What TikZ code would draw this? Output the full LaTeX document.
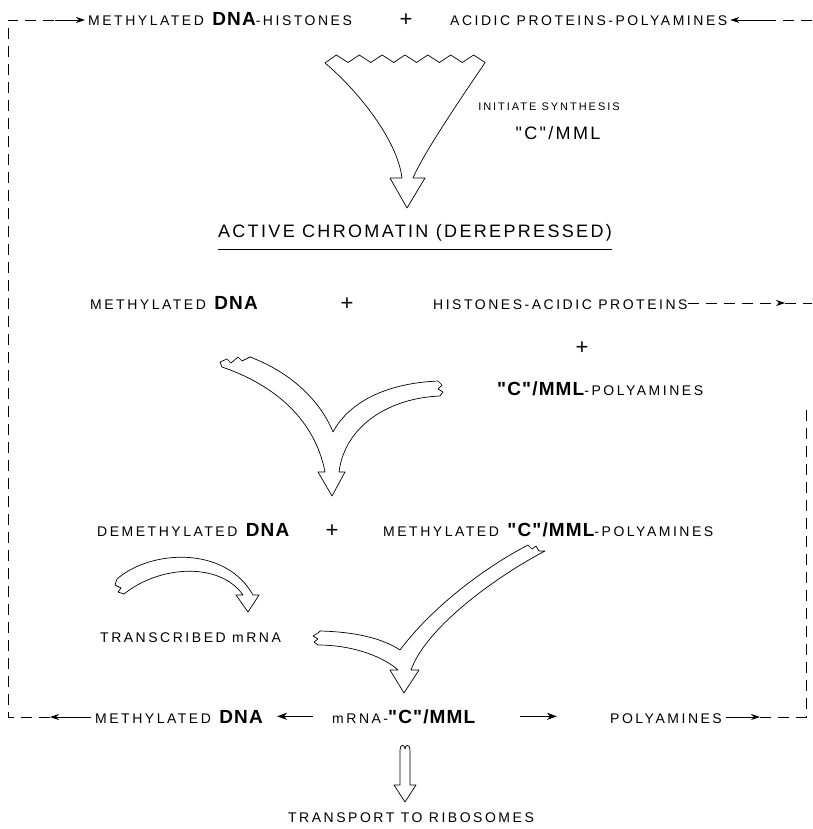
\documentclass[tikz,border=0pt]{standalone}
\usepackage{fontspec}
\setmainfont{Liberation Sans}
\newfontfamily\spaced[LetterSpace=18]{Liberation Sans}
\newfontfamily\heavy[LetterSpace=6]{Liberation Sans}
\newfontfamily\wide[LetterSpace=13]{Liberation Sans}
\newcommand{\smtxt}[1]{{\spaced\fontsize{14}{16}\selectfont #1}}
\newcommand{\bigtxt}[1]{{\heavy\bfseries\fontsize{19}{22}\selectfont #1}}
\newcommand{\plussign}{{\fontsize{22}{24}\selectfont +}}
\usetikzlibrary{arrows.meta}

\begin{document}
\begin{tikzpicture}[x=1pt,y=-1pt,
    every node/.style={inner sep=0pt},
    hollow/.style={draw,line width=0.7pt,line join=round},
    loop/.style={line width=0.6pt,dash pattern=on 11pt off 7pt},
    tip/.style={line width=0.8pt,-{Stealth[length=9pt,width=6pt,inset=3pt]}},
    heavytip/.style={line width=1.3pt,-{Stealth[length=10pt,width=7pt,inset=3pt]}}]
             \useasboundingbox (0,0) rectangle (812,829);
             \node[anchor=base west] (mdh) at (88,26) {\smtxt{METHYLATED }\hspace{2pt}\bigtxt{DNA}\smtxt{-HISTONES}};
             \node[anchor=base] (pl1) at (406,27) {\plussign};
             \node[anchor=base west] (apa) at (450,26) {\smtxt{ACIDIC PROTEINS-POLYAMINES}};
             \node[anchor=base] (init) at (549,111) {{\spaced\fontsize{11}{13}\selectfont INITIATE SYNTHESIS}};
             \node[anchor=base] (cm1) at (558,140) {{\wide\fontsize{18}{20}\selectfont "C"/MML}};
             \node[anchor=base] (act) at (415,237) {{\wide\fontsize{18}{20}\selectfont ACTIVE CHROMATIN (DEREPRESSED)}};
             \draw[line width=0.8pt] ([yshift=-12pt]act.base west) -- ([yshift=-12pt]act.base east);
             \node[anchor=base west] (mdna1) at (90,309) {\smtxt{METHYLATED }\hspace{2pt}\bigtxt{DNA}};
             \node[anchor=base] (pl2) at (347,310) {\plussign};
             \node[anchor=base west] (hap) at (433,309) {\smtxt{HISTONES-ACIDIC PROTEINS}};
             \node[anchor=base] (pl3) at (582,354) {\plussign};
             \node[anchor=base west] (cmp) at (497,395) {\bigtxt{"C"/MML}\smtxt{-POLYAMINES}};
             \node[anchor=base west] (dmd) at (97,536) {\smtxt{DEMETHYLATED }\hspace{2pt}\bigtxt{DNA}};
             \node[anchor=base] (pl4) at (332,537) {\plussign};
             \node[anchor=base west] (mcp) at (383,536) {\smtxt{METHYLATED }\hspace{2pt}\bigtxt{"C"/MML}\smtxt{-POLYAMINES}};
             \node[anchor=base west] (trm) at (100,642) {\smtxt{TRANSCRIBED mRNA}};
             \node[anchor=base west] (mdna2) at (95,723) {\smtxt{METHYLATED }\hspace{2pt}\bigtxt{DNA}};
             \node[anchor=base west] (mrna) at (332,723) {\smtxt{mRNA-}\bigtxt{"C"/MML}};
             \node[anchor=base west] (poly) at (610,723) {\smtxt{POLYAMINES}};
             \node[anchor=base] (trib) at (411,822) {\smtxt{TRANSPORT TO RIBOSOMES}};

             \coordinate (ltop) at (55,20);
             \coordinate (lbot) at (50,717);
             \coordinate (rtop) at (768,20);
             \coordinate (rmid) at (785,303);
             \coordinate (rbot) at (760,717);
             \draw[loop] (lbot) -- (8,717) -- (8,20) -- (ltop);
             \draw[tip,shorten >=3pt] (ltop) -- (ltop -| mdh.west);
             \draw[tip,shorten <=4pt] (lbot -| mdna2.west) -- (lbot);
             \draw[loop] (812,20) -- (rtop);
             \draw[tip,shorten >=3pt] (rtop) -- (rtop -| apa.east);
             \draw[loop,-{Stealth[length=9pt,width=6pt,inset=3pt]}] (rmid -| hap.east) -- (rmid);
             \draw[loop] (rmid) -- (812,303);
             \draw[tip,shorten <=4pt] (rbot -| poly.east) -- (rbot);
             \draw[loop] (rbot) -- (806,717) -- (806,403);
             \draw[heavytip,shorten <=19pt,shorten >=14pt] (mrna.west) -- (mrna.west -| mdna2.east);
             \draw[heavytip,shorten <=45pt,shorten >=53pt] (mrna.east) -- (mrna.east -| poly.west);

             \draw[hollow] (325,63) \foreach \i in {0,...,6} { -- ({336.4+22.86*\i},55) -- ({348+22.86*\i},62.5) }
                 .. controls (470,85) and (425,150) .. (413,178) -- (425,178) -- (407,208) -- (390,178) -- (402,178)
                 .. controls (397,138) and (355,88) .. cycle;
             \draw[hollow] (250,357) .. controls (290,372) and (320,400) .. (333,432)
                 .. controls (350,400) and (390,383) .. (438,381) -- (442,385) -- (438,389) -- (443,392) -- (440,396)
                 .. controls (390,398) and (345,425) .. (339,472) -- (345,472) -- (332,496) -- (318,472) -- (325,472)
                 .. controls (315,420) and (275,385) .. (222,367) -- (220,362) -- (227,359) -- (231,363) -- (238,357)
                 -- (242,361) -- cycle;
             \draw[hollow] (117,579) .. controls (150,550) and (225,545) .. (253,595) -- (259,595) -- (248,612)
                 -- (236,595) -- (243,595) .. controls (220,562) and (160,565) .. (124,594) -- (118,592) -- (121,588)
                 -- (115,585) -- cycle;
             \draw[hollow] (320,631) .. controls (360,632) and (385,640) .. (400,650)
                 .. controls (430,610) and (480,570) .. (528,545) -- (532,549) -- (536,546) -- (539,551) -- (545,551)
                 .. controls (490,580) and (425,630) .. (411,670) -- (419,670) -- (404,693) -- (390,670) -- (398,670)
                 .. controls (385,658) and (355,645) .. (318,645) -- (314,642) -- (318,639) -- (313,636) -- (318,633)
                 -- cycle;
             \draw[hollow] (400,785) -- (400,750) .. controls (400,744) and (405,744) .. (405,749)
                 .. controls (405,744) and (410,744) .. (410,750) -- (410,785) -- (416,785) -- (405,802) -- (394,785) -- cycle;
            \end{tikzpicture}
\end{document}
